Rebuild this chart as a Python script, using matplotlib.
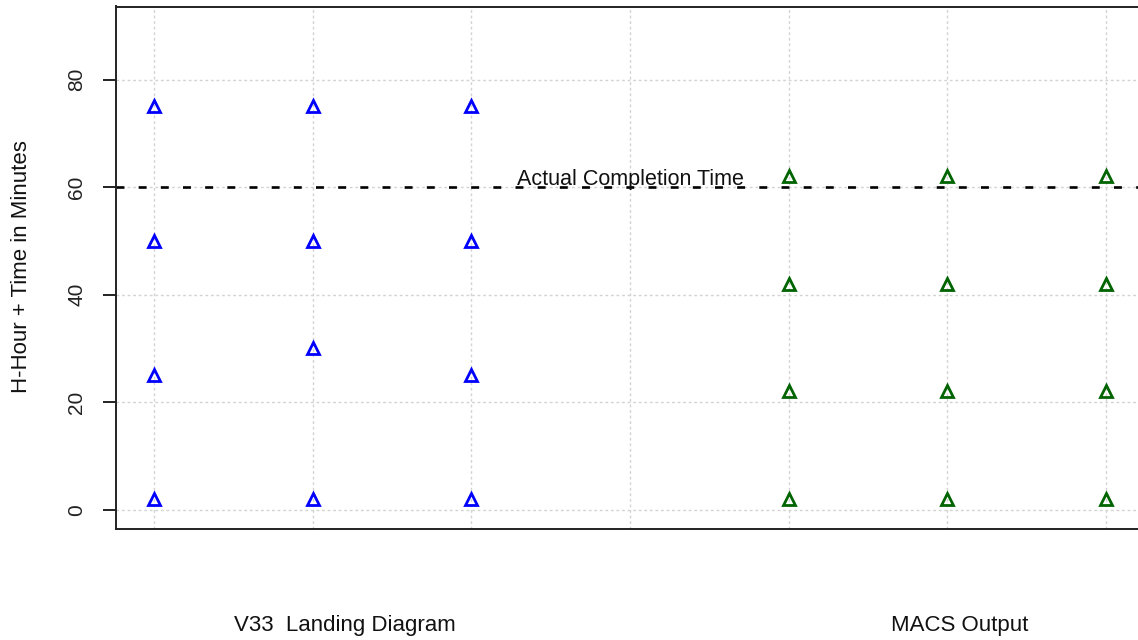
import numpy as np
import matplotlib
matplotlib.use('Agg')
import matplotlib.pyplot as plt
import matplotlib.transforms as mtransforms

plt.rcParams['font.family'] = ['Liberation Sans', 'DejaVu Sans']

# data
v33_x = [1, 2, 3]
v33_times = [[2, 25, 50, 75],
             [2, 30, 50, 75],
             [2, 25, 50, 75]]
macs_x = [5, 6, 7]
macs_times = [[2, 22, 42, 62],
              [2, 22, 42, 62],
              [2, 22, 42, 62]]
completion_time = 60
group_labels = ['V33  Landing Diagram', 'MACS Output']
group_label_x = [2.2, 6.08]
yticks = [0, 20, 40, 60, 80]

fig = plt.figure(figsize=(11.38, 6.4), dpi=100)
ax = fig.add_axes([116 / 1138, 1 - 529 / 640, 1028 / 1138, (529 - 6.5) / 640])

# grid first so it sits underneath
for gx in range(1, 8):
    ax.axvline(gx, color='#d3d3d3', lw=1, ls=(0, (2, 2)), zorder=0)
for gy in yticks:
    ax.axhline(gy, color='#d3d3d3', lw=1, ls=(0, (2, 2)), zorder=0)

for xi, ts in zip(v33_x, v33_times):
    ax.plot([xi] * len(ts), ts, ls='none', marker='^', ms=9, mew=2,
            mfc='none', mec='#0000ff', zorder=3)
for xi, ts in zip(macs_x, macs_times):
    ax.plot([xi] * len(ts), ts, ls='none', marker='^', ms=9, mew=2,
            mfc='none', mec='#006400', zorder=3)

ax.axhline(completion_time, color='black', lw=1.9, dashes=(3.0, 5.4), zorder=2)
ax.text(4, completion_time + 0.4, 'Actual Completion Time', ha='center',
        va='baseline', fontsize=15.5, color='#111111', zorder=4)

ax.set_xlim(0.76, 7.24)
ax.set_ylim(-3.6, 93.6)
ax.set_xticks([])
ax.set_yticks(yticks)
ax.tick_params(axis='y', length=9.4, width=1.4, pad=12, labelsize=15,
               labelrotation=90, colors='#222222')
for lbl in ax.get_yticklabels():
    lbl.set_va('center')
for sp in ax.spines.values():
    sp.set_color('#222222')
    sp.set_linewidth(1.4)

fig.text(22 / 1138, 0.583, 'H-Hour + Time in Minutes', rotation=90,
         ha='center', va='center', fontsize=16, color='#111111')

# group labels under the axes, x in data units, y in figure units
trans = mtransforms.blended_transform_factory(ax.transData, fig.transFigure)
for lx, lab in zip(group_label_x, group_labels):
    ax.text(lx, 1 - 626 / 640, lab, transform=trans,
            ha='center', va='center', fontsize=16, color='#111111')

fig.savefig('out.png', dpi=100)
